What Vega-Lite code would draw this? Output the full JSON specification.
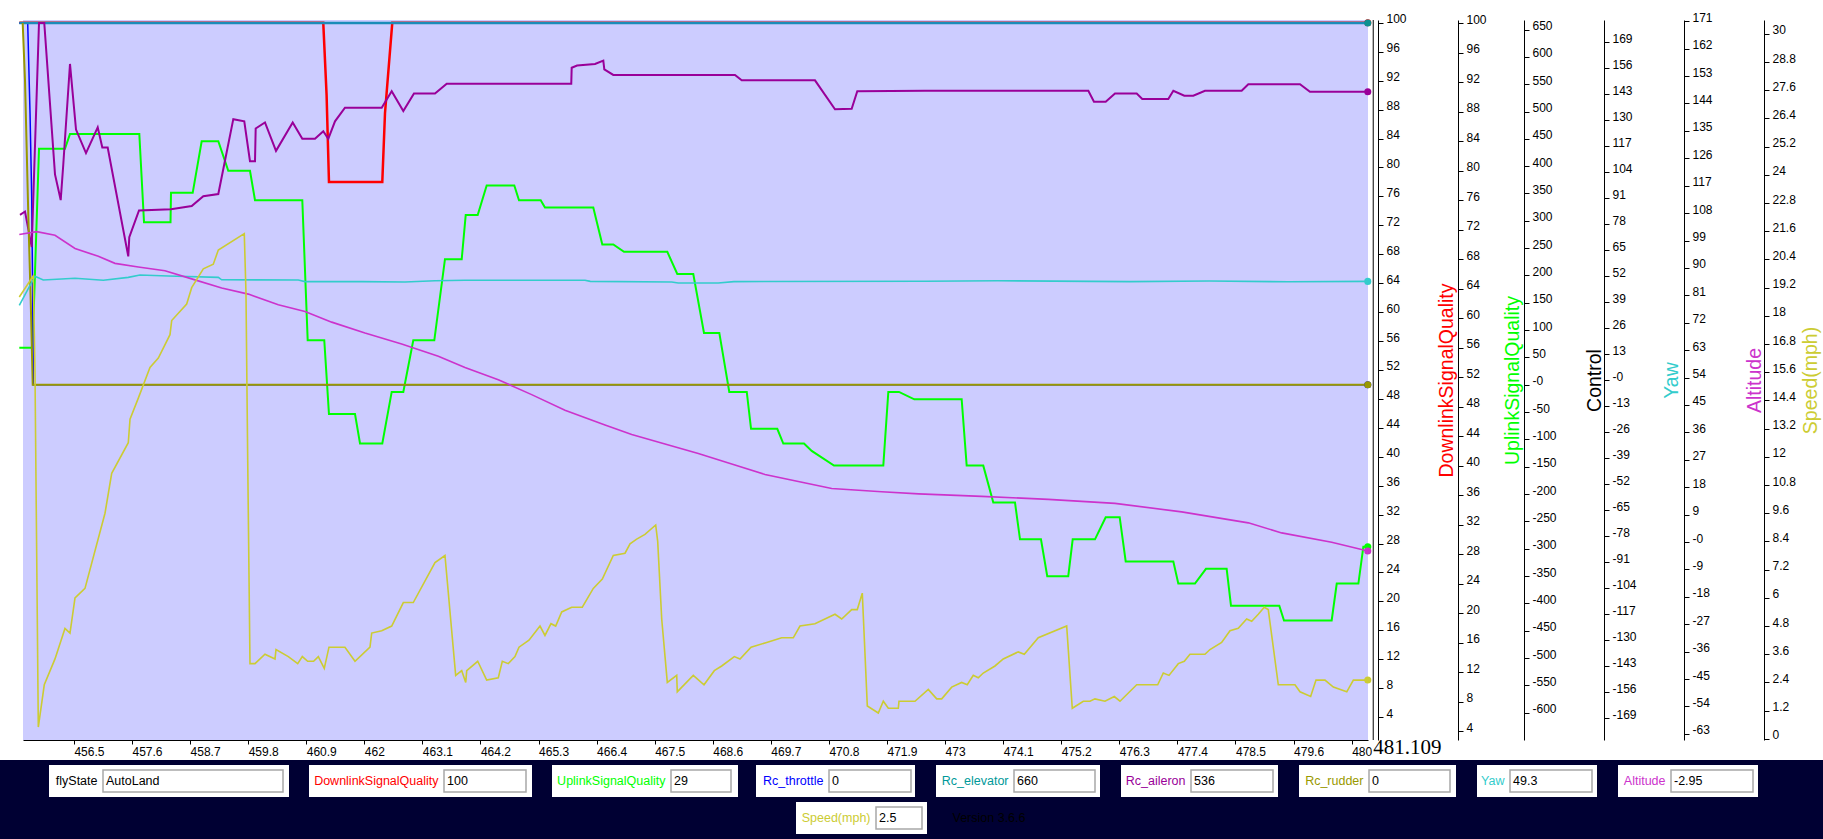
{
  "$schema": "https://vega.github.io/schema/vega-lite/v6.json",
  "background": "white",
  "padding": {"left": 0, "top": 11, "right": 0, "bottom": 0},
  "spacing": 0,
  "datasets": {
    "d": [
      {"s":"DownlinkSignalQuality","t":455.466,"v":100},{"s":"DownlinkSignalQuality","t":461.223,"v":100},{"s":"DownlinkSignalQuality","t":461.286,"v":90},{"s":"DownlinkSignalQuality","t":461.331,"v":78},{"s":"DownlinkSignalQuality","t":462.341,"v":78},{"s":"DownlinkSignalQuality","t":462.392,"v":87.5},{"s":"DownlinkSignalQuality","t":462.53,"v":100},{"s":"DownlinkSignalQuality","t":481.006,"v":100},

      {"s":"UplinkSignalQuality","t":455.466,"v":56},{"s":"UplinkSignalQuality","t":455.706,"v":56},{"s":"UplinkSignalQuality","t":455.744,"v":62},{"s":"UplinkSignalQuality","t":455.839,"v":83},{"s":"UplinkSignalQuality","t":456.331,"v":83},{"s":"UplinkSignalQuality","t":456.426,"v":85},{"s":"UplinkSignalQuality","t":457.739,"v":85},{"s":"UplinkSignalQuality","t":457.828,"v":73},{"s":"UplinkSignalQuality","t":458.33,"v":73},{"s":"UplinkSignalQuality","t":458.339,"v":77},{"s":"UplinkSignalQuality","t":458.75,"v":77},{"s":"UplinkSignalQuality","t":458.92,"v":84},{"s":"UplinkSignalQuality","t":459.235,"v":84},{"s":"UplinkSignalQuality","t":459.424,"v":80},{"s":"UplinkSignalQuality","t":459.835,"v":80},{"s":"UplinkSignalQuality","t":459.93,"v":76},{"s":"UplinkSignalQuality","t":460.826,"v":76},{"s":"UplinkSignalQuality","t":460.928,"v":57},{"s":"UplinkSignalQuality","t":461.242,"v":57},{"s":"UplinkSignalQuality","t":461.331,"v":47},{"s":"UplinkSignalQuality","t":461.824,"v":47},{"s":"UplinkSignalQuality","t":461.919,"v":43},{"s":"UplinkSignalQuality","t":462.341,"v":43},{"s":"UplinkSignalQuality","t":462.519,"v":50},{"s":"UplinkSignalQuality","t":462.739,"v":50},{"s":"UplinkSignalQuality","t":462.928,"v":57},{"s":"UplinkSignalQuality","t":463.326,"v":57},{"s":"UplinkSignalQuality","t":463.528,"v":68},{"s":"UplinkSignalQuality","t":463.845,"v":68},{"s":"UplinkSignalQuality","t":463.921,"v":74},{"s":"UplinkSignalQuality","t":464.148,"v":74},{"s":"UplinkSignalQuality","t":464.318,"v":78},{"s":"UplinkSignalQuality","t":464.841,"v":78},{"s":"UplinkSignalQuality","t":464.93,"v":76},{"s":"UplinkSignalQuality","t":465.341,"v":76},{"s":"UplinkSignalQuality","t":465.422,"v":75},{"s":"UplinkSignalQuality","t":466.337,"v":75},{"s":"UplinkSignalQuality","t":466.508,"v":70},{"s":"UplinkSignalQuality","t":466.716,"v":70},{"s":"UplinkSignalQuality","t":466.919,"v":69},{"s":"UplinkSignalQuality","t":467.739,"v":69},{"s":"UplinkSignalQuality","t":467.928,"v":66},{"s":"UplinkSignalQuality","t":468.231,"v":66},{"s":"UplinkSignalQuality","t":468.434,"v":58},{"s":"UplinkSignalQuality","t":468.724,"v":58},{"s":"UplinkSignalQuality","t":468.913,"v":50},{"s":"UplinkSignalQuality","t":469.244,"v":50},{"s":"UplinkSignalQuality","t":469.325,"v":45},{"s":"UplinkSignalQuality","t":469.822,"v":45},{"s":"UplinkSignalQuality","t":469.936,"v":43},{"s":"UplinkSignalQuality","t":470.328,"v":43},{"s":"UplinkSignalQuality","t":470.474,"v":42},{"s":"UplinkSignalQuality","t":470.896,"v":40},{"s":"UplinkSignalQuality","t":471.83,"v":40},{"s":"UplinkSignalQuality","t":471.925,"v":50},{"s":"UplinkSignalQuality","t":472.127,"v":50},{"s":"UplinkSignalQuality","t":472.417,"v":49},{"s":"UplinkSignalQuality","t":473.314,"v":49},{"s":"UplinkSignalQuality","t":473.409,"v":40},{"s":"UplinkSignalQuality","t":473.723,"v":40},{"s":"UplinkSignalQuality","t":473.913,"v":35},{"s":"UplinkSignalQuality","t":474.324,"v":35},{"s":"UplinkSignalQuality","t":474.419,"v":30},{"s":"UplinkSignalQuality","t":474.816,"v":30},{"s":"UplinkSignalQuality","t":474.935,"v":25},{"s":"UplinkSignalQuality","t":475.333,"v":25},{"s":"UplinkSignalQuality","t":475.417,"v":30},{"s":"UplinkSignalQuality","t":475.839,"v":30},{"s":"UplinkSignalQuality","t":476.042,"v":33},{"s":"UplinkSignalQuality","t":476.307,"v":33},{"s":"UplinkSignalQuality","t":476.421,"v":27},{"s":"UplinkSignalQuality","t":477.323,"v":27},{"s":"UplinkSignalQuality","t":477.417,"v":24},{"s":"UplinkSignalQuality","t":477.733,"v":24},{"s":"UplinkSignalQuality","t":477.941,"v":26},{"s":"UplinkSignalQuality","t":478.333,"v":26},{"s":"UplinkSignalQuality","t":478.415,"v":21},{"s":"UplinkSignalQuality","t":479.33,"v":21},{"s":"UplinkSignalQuality","t":479.419,"v":19},{"s":"UplinkSignalQuality","t":480.322,"v":19},{"s":"UplinkSignalQuality","t":480.418,"v":24},{"s":"UplinkSignalQuality","t":480.828,"v":24},{"s":"UplinkSignalQuality","t":480.922,"v":29},{"s":"UplinkSignalQuality","t":481.006,"v":29},

      {"s":"Rc_throttle","t":455.466,"v":662},{"s":"Rc_throttle","t":455.625,"v":662},{"s":"Rc_throttle","t":455.669,"v":497},{"s":"Rc_throttle","t":455.701,"v":343},{"s":"Rc_throttle","t":455.72,"v":154},{"s":"Rc_throttle","t":455.731,"v":0},{"s":"Rc_throttle","t":481.006,"v":0},

      {"s":"Rc_elevator","t":455.466,"v":662},{"s":"Rc_elevator","t":481.006,"v":662},

      {"s":"Rc_aileron","t":455.479,"v":311},{"s":"Rc_aileron","t":455.574,"v":317},{"s":"Rc_aileron","t":455.701,"v":252},{"s":"Rc_aileron","t":455.839,"v":662},{"s":"Rc_aileron","t":455.939,"v":662},{"s":"Rc_aileron","t":456.142,"v":385},{"s":"Rc_aileron","t":456.25,"v":338},{"s":"Rc_aileron","t":456.299,"v":403},{"s":"Rc_aileron","t":456.426,"v":587},{"s":"Rc_aileron","t":456.54,"v":467},{"s":"Rc_aileron","t":456.729,"v":424},{"s":"Rc_aileron","t":456.951,"v":471},{"s":"Rc_aileron","t":457.038,"v":434},{"s":"Rc_aileron","t":457.14,"v":434},{"s":"Rc_aileron","t":457.53,"v":235},{"s":"Rc_aileron","t":457.549,"v":270},{"s":"Rc_aileron","t":457.733,"v":319},{"s":"Rc_aileron","t":458.339,"v":321},{"s":"Rc_aileron","t":458.731,"v":327},{"s":"Rc_aileron","t":458.951,"v":345},{"s":"Rc_aileron","t":459.235,"v":349},{"s":"Rc_aileron","t":459.519,"v":486},{"s":"Rc_aileron","t":459.727,"v":482},{"s":"Rc_aileron","t":459.835,"v":409},{"s":"Rc_aileron","t":459.93,"v":409},{"s":"Rc_aileron","t":459.943,"v":469},{"s":"Rc_aileron","t":460.119,"v":480},{"s":"Rc_aileron","t":460.328,"v":428},{"s":"Rc_aileron","t":460.644,"v":480},{"s":"Rc_aileron","t":460.826,"v":450},{"s":"Rc_aileron","t":461.066,"v":450},{"s":"Rc_aileron","t":461.223,"v":464},{"s":"Rc_aileron","t":461.318,"v":450},{"s":"Rc_aileron","t":461.445,"v":482},{"s":"Rc_aileron","t":461.634,"v":507},{"s":"Rc_aileron","t":462.33,"v":507},{"s":"Rc_aileron","t":462.519,"v":537},{"s":"Rc_aileron","t":462.739,"v":501},{"s":"Rc_aileron","t":462.941,"v":533},{"s":"Rc_aileron","t":463.339,"v":533},{"s":"Rc_aileron","t":463.561,"v":551},{"s":"Rc_aileron","t":465.92,"v":551},{"s":"Rc_aileron","t":465.928,"v":580},{"s":"Rc_aileron","t":466.03,"v":584},{"s":"Rc_aileron","t":466.37,"v":587},{"s":"Rc_aileron","t":466.527,"v":593},{"s":"Rc_aileron","t":466.546,"v":577},{"s":"Rc_aileron","t":466.716,"v":567},{"s":"Rc_aileron","t":469.021,"v":567},{"s":"Rc_aileron","t":469.148,"v":557},{"s":"Rc_aileron","t":470.536,"v":557},{"s":"Rc_aileron","t":470.915,"v":504},{"s":"Rc_aileron","t":471.231,"v":505},{"s":"Rc_aileron","t":471.337,"v":537},{"s":"Rc_aileron","t":472.619,"v":538},{"s":"Rc_aileron","t":475.713,"v":538},{"s":"Rc_aileron","t":475.82,"v":518},{"s":"Rc_aileron","t":476.042,"v":518},{"s":"Rc_aileron","t":476.218,"v":533},{"s":"Rc_aileron","t":476.629,"v":533},{"s":"Rc_aileron","t":476.735,"v":523},{"s":"Rc_aileron","t":477.228,"v":523},{"s":"Rc_aileron","t":477.323,"v":538},{"s":"Rc_aileron","t":477.531,"v":529},{"s":"Rc_aileron","t":477.701,"v":529},{"s":"Rc_aileron","t":477.922,"v":538},{"s":"Rc_aileron","t":478.617,"v":538},{"s":"Rc_aileron","t":478.743,"v":550},{"s":"Rc_aileron","t":479.722,"v":550},{"s":"Rc_aileron","t":479.911,"v":536},{"s":"Rc_aileron","t":481.006,"v":536},

      {"s":"Rc_rudder","t":455.53,"v":662},{"s":"Rc_rudder","t":455.574,"v":557},{"s":"Rc_rudder","t":455.637,"v":308},{"s":"Rc_rudder","t":455.682,"v":154},{"s":"Rc_rudder","t":455.72,"v":0},{"s":"Rc_rudder","t":481.006,"v":0},

      {"s":"Yaw","t":455.466,"v":37.3},{"s":"Yaw","t":455.763,"v":51.9},{"s":"Yaw","t":455.92,"v":50.0},{"s":"Yaw","t":456.521,"v":50.9},{"s":"Yaw","t":457.057,"v":49.9},{"s":"Yaw","t":457.53,"v":51.3},{"s":"Yaw","t":457.752,"v":52.5},{"s":"Yaw","t":458.288,"v":52.0},{"s":"Yaw","t":459.235,"v":51.3},{"s":"Yaw","t":459.299,"v":50.1},{"s":"Yaw","t":460.75,"v":50.0},{"s":"Yaw","t":460.877,"v":49.2},{"s":"Yaw","t":461.951,"v":49.2},{"s":"Yaw","t":462.771,"v":49.0},{"s":"Yaw","t":463.339,"v":49.6},{"s":"Yaw","t":463.907,"v":49.9},{"s":"Yaw","t":466.18,"v":49.9},{"s":"Yaw","t":466.28,"v":49.3},{"s":"Yaw","t":467.822,"v":49.0},{"s":"Yaw","t":467.947,"v":48.5},{"s":"Yaw","t":468.705,"v":48.5},{"s":"Yaw","t":469.0,"v":49.2},{"s":"Yaw","t":472.619,"v":49.4},{"s":"Yaw","t":474.0,"v":49.6},{"s":"Yaw","t":476.5,"v":49.2},{"s":"Yaw","t":478.0,"v":49.5},{"s":"Yaw","t":479.5,"v":49.1},{"s":"Yaw","t":481.006,"v":49.3},

      {"s":"Altitude","t":455.466,"v":101.0},{"s":"Altitude","t":455.795,"v":101.9},{"s":"Altitude","t":456.142,"v":100.7},{"s":"Altitude","t":456.521,"v":96.4},{"s":"Altitude","t":456.962,"v":93.8},{"s":"Altitude","t":457.278,"v":91.5},{"s":"Altitude","t":457.72,"v":90.3},{"s":"Altitude","t":458.225,"v":89.1},{"s":"Altitude","t":458.731,"v":86.4},{"s":"Altitude","t":459.299,"v":83.4},{"s":"Altitude","t":459.803,"v":81.4},{"s":"Altitude","t":460.371,"v":77.9},{"s":"Altitude","t":460.877,"v":75.7},{"s":"Altitude","t":461.383,"v":72.2},{"s":"Altitude","t":462.013,"v":68.6},{"s":"Altitude","t":462.708,"v":65.0},{"s":"Altitude","t":463.402,"v":61.0},{"s":"Altitude","t":463.907,"v":57.3},{"s":"Altitude","t":464.538,"v":53.3},{"s":"Altitude","t":465.17,"v":48.4},{"s":"Altitude","t":465.801,"v":43.3},{"s":"Altitude","t":466.559,"v":38.4},{"s":"Altitude","t":467.065,"v":35.3},{"s":"Altitude","t":467.695,"v":32.2},{"s":"Altitude","t":468.326,"v":29.1},{"s":"Altitude","t":468.959,"v":25.6},{"s":"Altitude","t":469.589,"v":22.2},{"s":"Altitude","t":470.22,"v":19.9},{"s":"Altitude","t":470.853,"v":17.6},{"s":"Altitude","t":471.799,"v":16.5},{"s":"Altitude","t":472.5,"v":15.8},{"s":"Altitude","t":473.693,"v":15.0},{"s":"Altitude","t":474.955,"v":14.0},{"s":"Altitude","t":476.218,"v":12.7},{"s":"Altitude","t":477.481,"v":9.9},{"s":"Altitude","t":478.743,"v":6.3},{"s":"Altitude","t":479.375,"v":3.0},{"s":"Altitude","t":480.322,"v":-0.1},{"s":"Altitude","t":481.006,"v":-2.95},

      {"s":"Speed(mph)","t":455.466,"v":18.8},{"s":"Speed(mph)","t":455.731,"v":19.7},{"s":"Speed(mph)","t":455.763,"v":15.6},{"s":"Speed(mph)","t":455.826,"v":0.5},{"s":"Speed(mph)","t":455.939,"v":2.3},{"s":"Speed(mph)","t":456.142,"v":3.4},{"s":"Speed(mph)","t":456.331,"v":4.7},{"s":"Speed(mph)","t":456.426,"v":4.5},{"s":"Speed(mph)","t":456.521,"v":6.0},{"s":"Speed(mph)","t":456.71,"v":6.4},{"s":"Speed(mph)","t":457.089,"v":9.6},{"s":"Speed(mph)","t":457.216,"v":11.3},{"s":"Speed(mph)","t":457.53,"v":12.6},{"s":"Speed(mph)","t":457.563,"v":13.6},{"s":"Speed(mph)","t":457.72,"v":14.5},{"s":"Speed(mph)","t":457.941,"v":15.8},{"s":"Speed(mph)","t":458.099,"v":16.2},{"s":"Speed(mph)","t":458.32,"v":17.2},{"s":"Speed(mph)","t":458.352,"v":17.8},{"s":"Speed(mph)","t":458.636,"v":18.5},{"s":"Speed(mph)","t":458.731,"v":19.2},{"s":"Speed(mph)","t":458.951,"v":20.0},{"s":"Speed(mph)","t":459.14,"v":20.2},{"s":"Speed(mph)","t":459.235,"v":20.8},{"s":"Speed(mph)","t":459.727,"v":21.5},{"s":"Speed(mph)","t":459.759,"v":19.0},{"s":"Speed(mph)","t":459.792,"v":11.85},{"s":"Speed(mph)","t":459.835,"v":3.2},{"s":"Speed(mph)","t":459.93,"v":3.2},{"s":"Speed(mph)","t":460.119,"v":3.6},{"s":"Speed(mph)","t":460.309,"v":3.4},{"s":"Speed(mph)","t":460.328,"v":3.8},{"s":"Speed(mph)","t":460.561,"v":3.5},{"s":"Speed(mph)","t":460.739,"v":3.2},{"s":"Speed(mph)","t":460.826,"v":3.5},{"s":"Speed(mph)","t":460.928,"v":3.3},{"s":"Speed(mph)","t":461.04,"v":3.3},{"s":"Speed(mph)","t":461.129,"v":3.5},{"s":"Speed(mph)","t":461.242,"v":3.0},{"s":"Speed(mph)","t":461.331,"v":3.9},{"s":"Speed(mph)","t":461.634,"v":3.9},{"s":"Speed(mph)","t":461.824,"v":3.3},{"s":"Speed(mph)","t":462.108,"v":3.9},{"s":"Speed(mph)","t":462.14,"v":4.5},{"s":"Speed(mph)","t":462.33,"v":4.6},{"s":"Speed(mph)","t":462.519,"v":4.8},{"s":"Speed(mph)","t":462.739,"v":5.8},{"s":"Speed(mph)","t":462.928,"v":5.8},{"s":"Speed(mph)","t":463.339,"v":7.5},{"s":"Speed(mph)","t":463.528,"v":7.8},{"s":"Speed(mph)","t":463.731,"v":2.7},{"s":"Speed(mph)","t":463.845,"v":2.9},{"s":"Speed(mph)","t":463.921,"v":2.4},{"s":"Speed(mph)","t":463.94,"v":2.9},{"s":"Speed(mph)","t":464.148,"v":3.3},{"s":"Speed(mph)","t":464.318,"v":2.5},{"s":"Speed(mph)","t":464.538,"v":2.6},{"s":"Speed(mph)","t":464.614,"v":3.3},{"s":"Speed(mph)","t":464.727,"v":3.2},{"s":"Speed(mph)","t":464.854,"v":3.5},{"s":"Speed(mph)","t":464.93,"v":3.9},{"s":"Speed(mph)","t":465.119,"v":4.2},{"s":"Speed(mph)","t":465.328,"v":4.8},{"s":"Speed(mph)","t":465.422,"v":4.4},{"s":"Speed(mph)","t":465.536,"v":4.9},{"s":"Speed(mph)","t":465.625,"v":4.8},{"s":"Speed(mph)","t":465.739,"v":5.4},{"s":"Speed(mph)","t":465.928,"v":5.6},{"s":"Speed(mph)","t":466.129,"v":5.6},{"s":"Speed(mph)","t":466.337,"v":6.4},{"s":"Speed(mph)","t":466.508,"v":6.8},{"s":"Speed(mph)","t":466.716,"v":7.8},{"s":"Speed(mph)","t":466.938,"v":7.9},{"s":"Speed(mph)","t":467.033,"v":8.3},{"s":"Speed(mph)","t":467.159,"v":8.5},{"s":"Speed(mph)","t":467.316,"v":8.7},{"s":"Speed(mph)","t":467.519,"v":9.1},{"s":"Speed(mph)","t":467.557,"v":8.4},{"s":"Speed(mph)","t":467.633,"v":5.1},{"s":"Speed(mph)","t":467.739,"v":2.4},{"s":"Speed(mph)","t":467.917,"v":2.7},{"s":"Speed(mph)","t":467.928,"v":2.0},{"s":"Speed(mph)","t":468.231,"v":2.7},{"s":"Speed(mph)","t":468.434,"v":2.3},{"s":"Speed(mph)","t":468.629,"v":2.9},{"s":"Speed(mph)","t":468.769,"v":3.1},{"s":"Speed(mph)","t":469.008,"v":3.5},{"s":"Speed(mph)","t":469.116,"v":3.4},{"s":"Speed(mph)","t":469.325,"v":3.9},{"s":"Speed(mph)","t":469.621,"v":4.1},{"s":"Speed(mph)","t":469.905,"v":4.3},{"s":"Speed(mph)","t":470.125,"v":4.3},{"s":"Speed(mph)","t":470.252,"v":4.8},{"s":"Speed(mph)","t":470.536,"v":4.9},{"s":"Speed(mph)","t":470.915,"v":5.3},{"s":"Speed(mph)","t":471.042,"v":5.1},{"s":"Speed(mph)","t":471.231,"v":5.5},{"s":"Speed(mph)","t":471.337,"v":5.5},{"s":"Speed(mph)","t":471.432,"v":6.2},{"s":"Speed(mph)","t":471.527,"v":1.4},{"s":"Speed(mph)","t":471.735,"v":1.1},{"s":"Speed(mph)","t":471.83,"v":1.6},{"s":"Speed(mph)","t":471.925,"v":1.3},{"s":"Speed(mph)","t":472.114,"v":1.3},{"s":"Speed(mph)","t":472.127,"v":1.6},{"s":"Speed(mph)","t":472.43,"v":1.6},{"s":"Speed(mph)","t":472.682,"v":2.1},{"s":"Speed(mph)","t":472.841,"v":1.7},{"s":"Speed(mph)","t":472.936,"v":1.7},{"s":"Speed(mph)","t":473.125,"v":2.2},{"s":"Speed(mph)","t":473.314,"v":2.4},{"s":"Speed(mph)","t":473.42,"v":2.3},{"s":"Speed(mph)","t":473.534,"v":2.7},{"s":"Speed(mph)","t":473.629,"v":2.6},{"s":"Speed(mph)","t":473.723,"v":2.8},{"s":"Speed(mph)","t":473.945,"v":3.1},{"s":"Speed(mph)","t":474.102,"v":3.4},{"s":"Speed(mph)","t":474.386,"v":3.7},{"s":"Speed(mph)","t":474.5,"v":3.6},{"s":"Speed(mph)","t":474.765,"v":4.3},{"s":"Speed(mph)","t":475.303,"v":4.8},{"s":"Speed(mph)","t":475.409,"v":1.3},{"s":"Speed(mph)","t":475.618,"v":1.6},{"s":"Speed(mph)","t":475.744,"v":1.6},{"s":"Speed(mph)","t":475.839,"v":1.7},{"s":"Speed(mph)","t":476.028,"v":1.6},{"s":"Speed(mph)","t":476.205,"v":1.8},{"s":"Speed(mph)","t":476.313,"v":1.6},{"s":"Speed(mph)","t":476.629,"v":2.3},{"s":"Speed(mph)","t":476.849,"v":2.3},{"s":"Speed(mph)","t":477.027,"v":2.3},{"s":"Speed(mph)","t":477.133,"v":2.8},{"s":"Speed(mph)","t":477.241,"v":2.7},{"s":"Speed(mph)","t":477.417,"v":3.2},{"s":"Speed(mph)","t":477.531,"v":3.3},{"s":"Speed(mph)","t":477.638,"v":3.6},{"s":"Speed(mph)","t":477.922,"v":3.6},{"s":"Speed(mph)","t":478.017,"v":3.8},{"s":"Speed(mph)","t":478.238,"v":4.1},{"s":"Speed(mph)","t":478.396,"v":4.6},{"s":"Speed(mph)","t":478.553,"v":4.7},{"s":"Speed(mph)","t":478.712,"v":5.1},{"s":"Speed(mph)","t":478.807,"v":5.0},{"s":"Speed(mph)","t":478.932,"v":5.3},{"s":"Speed(mph)","t":479.045,"v":5.6},{"s":"Speed(mph)","t":479.121,"v":5.5},{"s":"Speed(mph)","t":479.311,"v":2.3},{"s":"Speed(mph)","t":479.627,"v":2.3},{"s":"Speed(mph)","t":479.722,"v":2.0},{"s":"Speed(mph)","t":479.924,"v":1.8},{"s":"Speed(mph)","t":480.025,"v":2.5},{"s":"Speed(mph)","t":480.195,"v":2.5},{"s":"Speed(mph)","t":480.354,"v":2.2},{"s":"Speed(mph)","t":480.608,"v":2.0},{"s":"Speed(mph)","t":480.733,"v":2.5},{"s":"Speed(mph)","t":481.006,"v":2.5}
    ],
    "panel": [
      {"f":"flyState","v":"AutoLand"},
      {"f":"DownlinkSignalQuality","v":"100"},
      {"f":"UplinkSignalQuality","v":"29"},
      {"f":"Rc_throttle","v":"0"},
      {"f":"Rc_elevator","v":"660"},
      {"f":"Rc_aileron","v":"536"},
      {"f":"Rc_rudder","v":"0"},
      {"f":"Yaw","v":"49.3"},
      {"f":"Altitude","v":"-2.95"},
      {"f":"Speed(mph)","v":"2.5"}
    ]
  },
  "vconcat": [
    {
      "hconcat": [
        {"width": 23, "height": 720, "data": {"values": []}, "mark": {"type": "text"}, "encoding": {"text": {"value": ""}}},
        {
          "width": 1345,
          "height": 720,
          "view": {"fill": "#ccccff"},
          "data": {"name": "d"},
          "layer": [
            {
              "transform": [{"filter": "datum.s == 'DownlinkSignalQuality'"}],
              "encoding": {
                "x": {"field": "t", "type": "quantitative", "scale": {"domain": [455.536, 481.01], "nice": false, "zero": false},
                  "axis": {"orient": "bottom", "title": null, "values": [456.5,457.6,458.7,459.8,460.9,462,463.1,464.2,465.3,466.4,467.5,468.6,469.7,470.8,471.9,473,474.1,475.2,476.3,477.4,478.5,479.6,480.7],
                    "labelExpr": "datum.value > 480.6 ? '480' : '' + datum.value", "labelAlign": "left", "labelBaseline": "top", "labelPadding": 2, "tickSize": 4}},
                "y": {"field": "v", "type": "quantitative", "scale": {"domain": [0.84, 100.39], "nice": false, "zero": false},
                  "axis": {"orient": "right", "offset": 10, "values": [100,96,92,88,84,80,76,72,68,64,60,56,52,48,44,40,36,32,28,24,20,16,12,8,4], "labelExpr": "'' + datum.value",
                    "tickSize": 5, "labelPadding": 3, "labelBaseline": "alphabetic",
                    "title": "DownlinkSignalQuality", "titleColor": "#ff0000", "titleX": 74, "titleAngle": 270, "titleAlign": "center", "titleBaseline": "alphabetic", "titleFontSize": 19.5, "titleFontWeight": "normal"}}
              },
              "layer": [
                {"mark": {"type": "line", "color": "#ff0000", "strokeWidth": 2.5}},
                {"transform": [{"filter": "datum.t > 481"}], "mark": {"type": "circle", "color": "#ff0000", "size": 50, "opacity": 1}}
              ]
            },
            {
              "transform": [{"filter": "datum.s == 'UplinkSignalQuality'"}],
              "encoding": {
                "x": {"field": "t", "type": "quantitative", "scale": {"domain": [455.536, 481.01], "nice": false, "zero": false}, "axis": null},
                "y": {"field": "v", "type": "quantitative", "scale": {"domain": [2.78, 100.45], "nice": false, "zero": false},
                  "axis": {"orient": "right", "offset": 90, "values": [100,96,92,88,84,80,76,72,68,64,60,56,52,48,44,40,36,32,28,24,20,16,12,8,4], "labelExpr": "'' + datum.value",
                    "tickSize": 5, "labelPadding": 3, "labelBaseline": "alphabetic",
                    "title": "UplinkSignalQuality", "titleColor": "#00ff00", "titleX": 60, "titleAngle": 270, "titleAlign": "center", "titleBaseline": "alphabetic", "titleFontSize": 19.5, "titleFontWeight": "normal"}}
              },
              "layer": [
                {"mark": {"type": "line", "color": "#00ff00", "strokeWidth": 2}},
                {"transform": [{"filter": "datum.t > 481"}], "mark": {"type": "circle", "color": "#00ff00", "size": 50, "opacity": 1}}
              ]
            },
            {
              "transform": [{"filter": "indexof(['Rc_throttle','Rc_elevator','Rc_aileron','Rc_rudder'], datum.s) >= 0"}],
              "encoding": {
                "x": {"field": "t", "type": "quantitative", "scale": {"domain": [455.536, 481.01], "nice": false, "zero": false}, "axis": null},
                "y": {"field": "v", "type": "quantitative", "scale": {"domain": [-649.8, 667.4], "nice": false, "zero": false},
                  "axis": {"orient": "right", "offset": 156, "values": [650,600,550,500,450,400,350,300,250,200,150,100,50,0,-50,-100,-150,-200,-250,-300,-350,-400,-450,-500,-550,-600],
                    "labelExpr": "datum.value == 0 ? '-0' : '' + datum.value",
                    "tickSize": 5, "labelPadding": 3, "labelBaseline": "alphabetic",
                    "title": "Control", "titleColor": "black", "titleX": 76, "titleAngle": 270, "titleAlign": "center", "titleBaseline": "alphabetic", "titleFontSize": 19.5, "titleFontWeight": "normal"}}
              },
              "layer": [
                {"transform": [{"filter": "datum.s == 'Rc_throttle'"}], "mark": {"type": "line", "color": "#0000ff", "strokeWidth": 1.5}},
                {"transform": [{"filter": "datum.s == 'Rc_elevator'"}], "mark": {"type": "line", "color": "#1a8cb8", "strokeWidth": 2.5}},
                {"transform": [{"filter": "datum.s == 'Rc_aileron'"}], "mark": {"type": "line", "color": "#990099", "strokeWidth": 2}},
                {"transform": [{"filter": "datum.s == 'Rc_rudder'"}], "mark": {"type": "line", "color": "#999900", "strokeWidth": 2}},
                {"transform": [{"filter": "datum.t > 481"}], "mark": {"type": "circle", "size": 50, "opacity": 1},
                  "encoding": {"color": {"field": "s", "type": "nominal", "legend": null,
                    "scale": {"domain": ["Rc_throttle","Rc_elevator","Rc_aileron","Rc_rudder"], "range": ["#0000ff","#0e9090","#990099","#999900"]}}}}
              ]
            },
            {
              "transform": [{"filter": "datum.s == 'Yaw'"}],
              "encoding": {
                "x": {"field": "t", "type": "quantitative", "scale": {"domain": [455.536, 481.01], "nice": false, "zero": false}, "axis": null},
                "y": {"field": "v", "type": "quantitative", "scale": {"domain": [-180, 180], "nice": false, "zero": false},
                  "axis": {"orient": "right", "offset": 236, "values": [169,156,143,130,117,104,91,78,65,52,39,26,13,0,-13,-26,-39,-52,-65,-78,-91,-104,-117,-130,-143,-156,-169],
                    "labelExpr": "datum.value == 0 ? '-0' : '' + datum.value",
                    "tickSize": 5, "labelPadding": 3, "labelBaseline": "alphabetic",
                    "title": "Yaw", "titleColor": "#33cccc", "titleX": 73, "titleAngle": 270, "titleAlign": "center", "titleBaseline": "alphabetic", "titleFontSize": 19.5, "titleFontWeight": "normal"}}
              },
              "layer": [
                {"mark": {"type": "line", "color": "#33cccc", "strokeWidth": 1.6}},
                {"transform": [{"filter": "datum.t > 481"}], "mark": {"type": "circle", "color": "#33cccc", "size": 50, "opacity": 1}}
              ]
            },
            {
              "transform": [{"filter": "datum.s == 'Altitude'"}],
              "encoding": {
                "x": {"field": "t", "type": "quantitative", "scale": {"domain": [455.536, 481.01], "nice": false, "zero": false}, "axis": null},
                "y": {"field": "v", "type": "quantitative", "scale": {"domain": [-65.0, 171.4], "nice": false, "zero": false},
                  "axis": {"orient": "right", "offset": 316, "values": [171,162,153,144,135,126,117,108,99,90,81,72,63,54,45,36,27,18,9,0,-9,-18,-27,-36,-45,-54,-63],
                    "labelExpr": "datum.value == 0 ? '-0' : '' + datum.value",
                    "tickSize": 5, "labelPadding": 3, "labelBaseline": "alphabetic",
                    "title": "Altitude", "titleColor": "#cc33cc", "titleX": 76, "titleAngle": 270, "titleAlign": "center", "titleBaseline": "alphabetic", "titleFontSize": 19.5, "titleFontWeight": "normal"}}
              },
              "layer": [
                {"mark": {"type": "line", "color": "#cc33cc", "strokeWidth": 1.6}},
                {"transform": [{"filter": "datum.t > 481"}], "mark": {"type": "circle", "color": "#cc33cc", "size": 50, "opacity": 1}}
              ]
            },
            {
              "transform": [{"filter": "datum.s == 'Speed(mph)'"}],
              "encoding": {
                "x": {"field": "t", "type": "quantitative", "scale": {"domain": [455.536, 481.01], "nice": false, "zero": false}, "axis": null},
                "y": {"field": "v", "type": "quantitative", "scale": {"domain": [-0.05, 30.59], "nice": false, "zero": false},
                  "axis": {"orient": "right", "offset": 396, "values": [30,28.8,27.6,26.4,25.2,24,22.8,21.6,20.4,19.2,18,16.8,15.6,14.4,13.2,12,10.8,9.6,8.4,7.2,6,4.8,3.6,2.4,1.2,0],
                    "labelExpr": "'' + datum.value",
                    "tickSize": 5, "labelPadding": 3, "labelBaseline": "alphabetic",
                    "title": "Speed(mph)", "titleColor": "#cccc33", "titleX": 52, "titleAngle": 270, "titleAlign": "center", "titleBaseline": "alphabetic", "titleFontSize": 19.5, "titleFontWeight": "normal"}}
              },
              "layer": [
                {"mark": {"type": "line", "color": "#cccc33", "strokeWidth": 1.6}},
                {"transform": [{"filter": "datum.t > 481"}], "mark": {"type": "circle", "color": "#cccc33", "size": 50, "opacity": 1}}
              ]
            },
            {
              "data": {"values": [{"t": 481.109, "label": "481.109"}]},
              "layer": [
                {"mark": {"type": "rule", "color": "black", "strokeWidth": 1},
                  "encoding": {"x": {"field": "t", "type": "quantitative", "scale": {"domain": [455.536, 481.01], "nice": false, "zero": false},
                    "axis": {"orient": "bottom", "title": null, "values": [462, 467.5, 473, 478.5], "labels": false, "domain": false, "tickSize": 8}}}},
                {"mark": {"type": "text", "font": "Liberation Serif", "fontSize": 21, "align": "left", "baseline": "alphabetic", "dy": 14, "color": "black"},
                  "encoding": {"x": {"field": "t", "type": "quantitative", "scale": {"domain": [455.536, 481.01], "nice": false, "zero": false}, "axis": null},
                    "y": {"value": "height"}, "text": {"field": "label"}}}
              ]
            }
          ],
          "resolve": {"scale": {"y": "independent"}, "axis": {"x": "independent"}}
        }
      ],
      "spacing": 0,
      "bounds": "flush"
    },
    {"width": 1823, "height": 2, "data": {"values": []}, "mark": {"type": "text"}, "encoding": {"text": {"value": ""}}},
    {"width": 1823, "height": 5, "view": {"fill": "#000033"}, "data": {"values": []}, "mark": {"type": "text"}, "encoding": {"text": {"value": ""}}},
    {
      "hconcat": [
        {"width": 49, "height": 32, "view": {"fill": "#000033"}, "data": {"values": []}, "mark": {"type": "text"}, "encoding": {"text": {"value": ""}}},
        {"width": 240, "height": 32, "view": {"fill": "white"}, "data": {"name": "panel"}, "transform": [{"filter": "datum.f == 'flyState'"}],
          "encoding": {"x": {"field": "f", "type": "nominal", "axis": null, "scale": {"type": "band", "range": [54, 234], "paddingInner": 0, "paddingOuter": 0}},
                       "y": {"field": "f", "type": "nominal", "axis": null, "scale": {"type": "band", "range": [5, 27], "paddingInner": 0, "paddingOuter": 0}}},
          "layer": [
            {"mark": {"type": "rect", "fill": "white", "stroke": "#a8a8a8", "strokeWidth": 1.5}},
            {"mark": {"type": "text", "align": "right", "baseline": "middle", "dx": -5.5, "color": "black", "fontSize": 12.5}, "encoding": {"x": {"field": "f", "type": "nominal", "bandPosition": 0}, "text": {"field": "f"}}},
            {"mark": {"type": "text", "align": "left", "baseline": "middle", "dx": 3, "color": "black", "fontSize": 12.5}, "encoding": {"x": {"field": "f", "type": "nominal", "bandPosition": 0}, "text": {"field": "v"}}}
          ]},
        {"width": 20, "height": 32, "view": {"fill": "#000033"}, "data": {"values": []}, "mark": {"type": "text"}, "encoding": {"text": {"value": ""}}},
        {"width": 223, "height": 32, "view": {"fill": "white"}, "data": {"name": "panel"}, "transform": [{"filter": "datum.f == 'DownlinkSignalQuality'"}],
          "encoding": {"x": {"field": "f", "type": "nominal", "axis": null, "scale": {"type": "band", "range": [135, 217], "paddingInner": 0, "paddingOuter": 0}},
                       "y": {"field": "f", "type": "nominal", "axis": null, "scale": {"type": "band", "range": [5, 27], "paddingInner": 0, "paddingOuter": 0}}},
          "layer": [
            {"mark": {"type": "rect", "fill": "white", "stroke": "#a8a8a8", "strokeWidth": 1.5}},
            {"mark": {"type": "text", "align": "right", "baseline": "middle", "dx": -5.5, "color": "#ff0000", "fontSize": 12.5}, "encoding": {"x": {"field": "f", "type": "nominal", "bandPosition": 0}, "text": {"field": "f"}}},
            {"mark": {"type": "text", "align": "left", "baseline": "middle", "dx": 3, "color": "black", "fontSize": 12.5}, "encoding": {"x": {"field": "f", "type": "nominal", "bandPosition": 0}, "text": {"field": "v"}}}
          ]},
        {"width": 20, "height": 32, "view": {"fill": "#000033"}, "data": {"values": []}, "mark": {"type": "text"}, "encoding": {"text": {"value": ""}}},
        {"width": 186, "height": 32, "view": {"fill": "white"}, "data": {"name": "panel"}, "transform": [{"filter": "datum.f == 'UplinkSignalQuality'"}],
          "encoding": {"x": {"field": "f", "type": "nominal", "axis": null, "scale": {"type": "band", "range": [119, 179], "paddingInner": 0, "paddingOuter": 0}},
                       "y": {"field": "f", "type": "nominal", "axis": null, "scale": {"type": "band", "range": [5, 27], "paddingInner": 0, "paddingOuter": 0}}},
          "layer": [
            {"mark": {"type": "rect", "fill": "white", "stroke": "#a8a8a8", "strokeWidth": 1.5}},
            {"mark": {"type": "text", "align": "right", "baseline": "middle", "dx": -5.5, "color": "#00ff00", "fontSize": 12.5}, "encoding": {"x": {"field": "f", "type": "nominal", "bandPosition": 0}, "text": {"field": "f"}}},
            {"mark": {"type": "text", "align": "left", "baseline": "middle", "dx": 3, "color": "black", "fontSize": 12.5}, "encoding": {"x": {"field": "f", "type": "nominal", "bandPosition": 0}, "text": {"field": "v"}}}
          ]},
        {"width": 18, "height": 32, "view": {"fill": "#000033"}, "data": {"values": []}, "mark": {"type": "text"}, "encoding": {"text": {"value": ""}}},
        {"width": 159, "height": 32, "view": {"fill": "white"}, "data": {"name": "panel"}, "transform": [{"filter": "datum.f == 'Rc_throttle'"}],
          "encoding": {"x": {"field": "f", "type": "nominal", "axis": null, "scale": {"type": "band", "range": [73, 155], "paddingInner": 0, "paddingOuter": 0}},
                       "y": {"field": "f", "type": "nominal", "axis": null, "scale": {"type": "band", "range": [5, 27], "paddingInner": 0, "paddingOuter": 0}}},
          "layer": [
            {"mark": {"type": "rect", "fill": "white", "stroke": "#a8a8a8", "strokeWidth": 1.5}},
            {"mark": {"type": "text", "align": "right", "baseline": "middle", "dx": -5.5, "color": "#0000ff", "fontSize": 12.5}, "encoding": {"x": {"field": "f", "type": "nominal", "bandPosition": 0}, "text": {"field": "f"}}},
            {"mark": {"type": "text", "align": "left", "baseline": "middle", "dx": 3, "color": "black", "fontSize": 12.5}, "encoding": {"x": {"field": "f", "type": "nominal", "bandPosition": 0}, "text": {"field": "v"}}}
          ]},
        {"width": 21, "height": 32, "view": {"fill": "#000033"}, "data": {"values": []}, "mark": {"type": "text"}, "encoding": {"text": {"value": ""}}},
        {"width": 164, "height": 32, "view": {"fill": "white"}, "data": {"name": "panel"}, "transform": [{"filter": "datum.f == 'Rc_elevator'"}],
          "encoding": {"x": {"field": "f", "type": "nominal", "axis": null, "scale": {"type": "band", "range": [78, 159], "paddingInner": 0, "paddingOuter": 0}},
                       "y": {"field": "f", "type": "nominal", "axis": null, "scale": {"type": "band", "range": [5, 27], "paddingInner": 0, "paddingOuter": 0}}},
          "layer": [
            {"mark": {"type": "rect", "fill": "white", "stroke": "#a8a8a8", "strokeWidth": 1.5}},
            {"mark": {"type": "text", "align": "right", "baseline": "middle", "dx": -5.5, "color": "#009999", "fontSize": 12.5}, "encoding": {"x": {"field": "f", "type": "nominal", "bandPosition": 0}, "text": {"field": "f"}}},
            {"mark": {"type": "text", "align": "left", "baseline": "middle", "dx": 3, "color": "black", "fontSize": 12.5}, "encoding": {"x": {"field": "f", "type": "nominal", "bandPosition": 0}, "text": {"field": "v"}}}
          ]},
        {"width": 21, "height": 32, "view": {"fill": "#000033"}, "data": {"values": []}, "mark": {"type": "text"}, "encoding": {"text": {"value": ""}}},
        {"width": 157, "height": 32, "view": {"fill": "white"}, "data": {"name": "panel"}, "transform": [{"filter": "datum.f == 'Rc_aileron'"}],
          "encoding": {"x": {"field": "f", "type": "nominal", "axis": null, "scale": {"type": "band", "range": [70, 152], "paddingInner": 0, "paddingOuter": 0}},
                       "y": {"field": "f", "type": "nominal", "axis": null, "scale": {"type": "band", "range": [5, 27], "paddingInner": 0, "paddingOuter": 0}}},
          "layer": [
            {"mark": {"type": "rect", "fill": "white", "stroke": "#a8a8a8", "strokeWidth": 1.5}},
            {"mark": {"type": "text", "align": "right", "baseline": "middle", "dx": -5.5, "color": "#990099", "fontSize": 12.5}, "encoding": {"x": {"field": "f", "type": "nominal", "bandPosition": 0}, "text": {"field": "f"}}},
            {"mark": {"type": "text", "align": "left", "baseline": "middle", "dx": 3, "color": "black", "fontSize": 12.5}, "encoding": {"x": {"field": "f", "type": "nominal", "bandPosition": 0}, "text": {"field": "v"}}}
          ]},
        {"width": 21, "height": 32, "view": {"fill": "#000033"}, "data": {"values": []}, "mark": {"type": "text"}, "encoding": {"text": {"value": ""}}},
        {"width": 157, "height": 32, "view": {"fill": "white"}, "data": {"name": "panel"}, "transform": [{"filter": "datum.f == 'Rc_rudder'"}],
          "encoding": {"x": {"field": "f", "type": "nominal", "axis": null, "scale": {"type": "band", "range": [70, 151], "paddingInner": 0, "paddingOuter": 0}},
                       "y": {"field": "f", "type": "nominal", "axis": null, "scale": {"type": "band", "range": [5, 27], "paddingInner": 0, "paddingOuter": 0}}},
          "layer": [
            {"mark": {"type": "rect", "fill": "white", "stroke": "#a8a8a8", "strokeWidth": 1.5}},
            {"mark": {"type": "text", "align": "right", "baseline": "middle", "dx": -5.5, "color": "#999900", "fontSize": 12.5}, "encoding": {"x": {"field": "f", "type": "nominal", "bandPosition": 0}, "text": {"field": "f"}}},
            {"mark": {"type": "text", "align": "left", "baseline": "middle", "dx": 3, "color": "black", "fontSize": 12.5}, "encoding": {"x": {"field": "f", "type": "nominal", "bandPosition": 0}, "text": {"field": "v"}}}
          ]},
        {"width": 21, "height": 32, "view": {"fill": "#000033"}, "data": {"values": []}, "mark": {"type": "text"}, "encoding": {"text": {"value": ""}}},
        {"width": 120, "height": 32, "view": {"fill": "white"}, "data": {"name": "panel"}, "transform": [{"filter": "datum.f == 'Yaw'"}],
          "encoding": {"x": {"field": "f", "type": "nominal", "axis": null, "scale": {"type": "band", "range": [33, 115], "paddingInner": 0, "paddingOuter": 0}},
                       "y": {"field": "f", "type": "nominal", "axis": null, "scale": {"type": "band", "range": [5, 27], "paddingInner": 0, "paddingOuter": 0}}},
          "layer": [
            {"mark": {"type": "rect", "fill": "white", "stroke": "#a8a8a8", "strokeWidth": 1.5}},
            {"mark": {"type": "text", "align": "right", "baseline": "middle", "dx": -5.5, "color": "#33cccc", "fontSize": 12.5}, "encoding": {"x": {"field": "f", "type": "nominal", "bandPosition": 0}, "text": {"field": "f"}}},
            {"mark": {"type": "text", "align": "left", "baseline": "middle", "dx": 3, "color": "black", "fontSize": 12.5}, "encoding": {"x": {"field": "f", "type": "nominal", "bandPosition": 0}, "text": {"field": "v"}}}
          ]},
        {"width": 21, "height": 32, "view": {"fill": "#000033"}, "data": {"values": []}, "mark": {"type": "text"}, "encoding": {"text": {"value": ""}}},
        {"width": 140, "height": 32, "view": {"fill": "white"}, "data": {"name": "panel"}, "transform": [{"filter": "datum.f == 'Altitude'"}],
          "encoding": {"x": {"field": "f", "type": "nominal", "axis": null, "scale": {"type": "band", "range": [53, 135], "paddingInner": 0, "paddingOuter": 0}},
                       "y": {"field": "f", "type": "nominal", "axis": null, "scale": {"type": "band", "range": [5, 27], "paddingInner": 0, "paddingOuter": 0}}},
          "layer": [
            {"mark": {"type": "rect", "fill": "white", "stroke": "#a8a8a8", "strokeWidth": 1.5}},
            {"mark": {"type": "text", "align": "right", "baseline": "middle", "dx": -5.5, "color": "#cc33cc", "fontSize": 12.5}, "encoding": {"x": {"field": "f", "type": "nominal", "bandPosition": 0}, "text": {"field": "f"}}},
            {"mark": {"type": "text", "align": "left", "baseline": "middle", "dx": 3, "color": "black", "fontSize": 12.5}, "encoding": {"x": {"field": "f", "type": "nominal", "bandPosition": 0}, "text": {"field": "v"}}}
          ]},
        {"width": 65, "height": 32, "view": {"fill": "#000033"}, "data": {"values": []}, "mark": {"type": "text"}, "encoding": {"text": {"value": ""}}}
      ],
      "spacing": 0
    },
    {"width": 1823, "height": 5, "view": {"fill": "#000033"}, "data": {"values": []}, "mark": {"type": "text"}, "encoding": {"text": {"value": ""}}},
    {
      "hconcat": [
        {"width": 796, "height": 32, "view": {"fill": "#000033"}, "data": {"values": []}, "mark": {"type": "text"}, "encoding": {"text": {"value": ""}}},
        {"width": 131, "height": 32, "view": {"fill": "white"}, "data": {"name": "panel"}, "transform": [{"filter": "datum.f == 'Speed(mph)'"}],
          "encoding": {"x": {"field": "f", "type": "nominal", "axis": null, "scale": {"type": "band", "range": [80, 126], "paddingInner": 0, "paddingOuter": 0}},
                       "y": {"field": "f", "type": "nominal", "axis": null, "scale": {"type": "band", "range": [5, 27], "paddingInner": 0, "paddingOuter": 0}}},
          "layer": [
            {"mark": {"type": "rect", "fill": "white", "stroke": "#a8a8a8", "strokeWidth": 1.5}},
            {"mark": {"type": "text", "align": "right", "baseline": "middle", "dx": -5.5, "color": "#cccc33", "fontSize": 12.5}, "encoding": {"x": {"field": "f", "type": "nominal", "bandPosition": 0}, "text": {"field": "f"}}},
            {"mark": {"type": "text", "align": "left", "baseline": "middle", "dx": 3, "color": "black", "fontSize": 12.5}, "encoding": {"x": {"field": "f", "type": "nominal", "bandPosition": 0}, "text": {"field": "v"}}}
          ]},
        {"width": 24, "height": 32, "view": {"fill": "#000033"}, "data": {"values": []}, "mark": {"type": "text"}, "encoding": {"text": {"value": ""}}},
        {"width": 76, "height": 32, "view": {"fill": "#000033"}, "data": {"values": [{"txt": "Version 3.6.6"}]}, "mark": {"type": "text", "color": "black", "fontSize": 12.5, "baseline": "middle"}, "encoding": {"text": {"field": "txt"}}},
        {"width": 796, "height": 32, "view": {"fill": "#000033"}, "data": {"values": []}, "mark": {"type": "text"}, "encoding": {"text": {"value": ""}}}
      ],
      "spacing": 0
    },
    {"width": 1823, "height": 5, "view": {"fill": "#000033"}, "data": {"values": []}, "mark": {"type": "text"}, "encoding": {"text": {"value": ""}}}
  ],
  "config": {
    "view": {"stroke": null},
    "concat": {"spacing": 0},
    "axis": {"labelFont": "Liberation Sans", "labelFontSize": 12, "labelColor": "black", "titleFont": "Liberation Sans", "domainColor": "black", "tickColor": "black", "grid": false, "labelOverlap": false, "labelFlush": false, "domainWidth": 1, "tickWidth": 1},
    "text": {"font": "Liberation Sans"}
  }
}
